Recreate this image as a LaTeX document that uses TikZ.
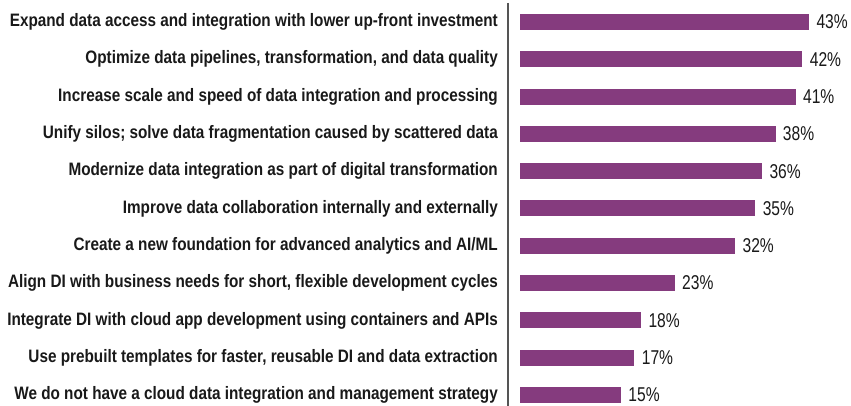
\documentclass[tikz,border=0pt]{standalone}
\usepackage{fontspec}
\setmainfont{Liberation Sans}
\newfontfamily\lblfont[FakeStretch=0.85]{Liberation Sans}
\newfontfamily\pctfont[FakeStretch=0.78]{Liberation Sans}
\definecolor{barpurple}{RGB}{133,59,126}
\definecolor{axisgrey}{RGB}{85,85,85}
\definecolor{txt}{RGB}{25,25,25}
\tikzset{
  catlabel/.style={anchor=east, inner sep=0pt, text=txt, font=\lblfont\bfseries\fontsize{18}{20}\selectfont},
  barbox/.style={anchor=west, inner sep=0pt, fill=barpurple, draw=none, minimum height=16pt},
  pctlabel/.style={anchor=west, inner sep=0pt, text=txt, font=\pctfont\fontsize{20}{22}\selectfont},
  axisline/.style={draw=axisgrey, line width=1.4pt}
}
\begin{document}
\begin{tikzpicture}[x=1pt,y=-1pt]
\useasboundingbox (0,0) rectangle (851,406);
\coordinate (axtop) at (508,3);
\coordinate (axbot) at (508,406);
\draw[axisline] (axtop) -- (axbot);
\foreach \i/\v/\t in {
 1/43/{Expand data access and integration with lower up-front investment},
 2/42/{Optimize data pipelines, transformation, and data quality},
 3/41/{Increase scale and speed of data integration and processing},
 4/38/{Unify silos; solve data fragmentation caused by scattered data},
 5/36/{Modernize data integration as part of digital transformation},
 6/35/{Improve data collaboration internally and externally},
 7/32/{Create a new foundation for advanced analytics and AI/ML},
 8/23/{Align DI with business needs for short, flexible development cycles},
 9/18/{Integrate DI with cloud app development using containers and APIs},
 10/17/{Use prebuilt templates for faster, reusable DI and data extraction},
 11/15/{We do not have a cloud data integration and management strategy}}{
  \pgfmathsetmacro{\yy}{22+(\i-1)*37.3}
  \pgfmathsetmacro{\ww}{\v*6.72}
  \node[catlabel] (l\i) at (498,\yy) {\t};
  \node[barbox, minimum width=\ww pt] (b\i) at (520,\yy) {};
  \node[pctlabel] (p\i) at ([xshift=7pt]b\i.east) {\v\%};
}
\end{tikzpicture}
\end{document}
